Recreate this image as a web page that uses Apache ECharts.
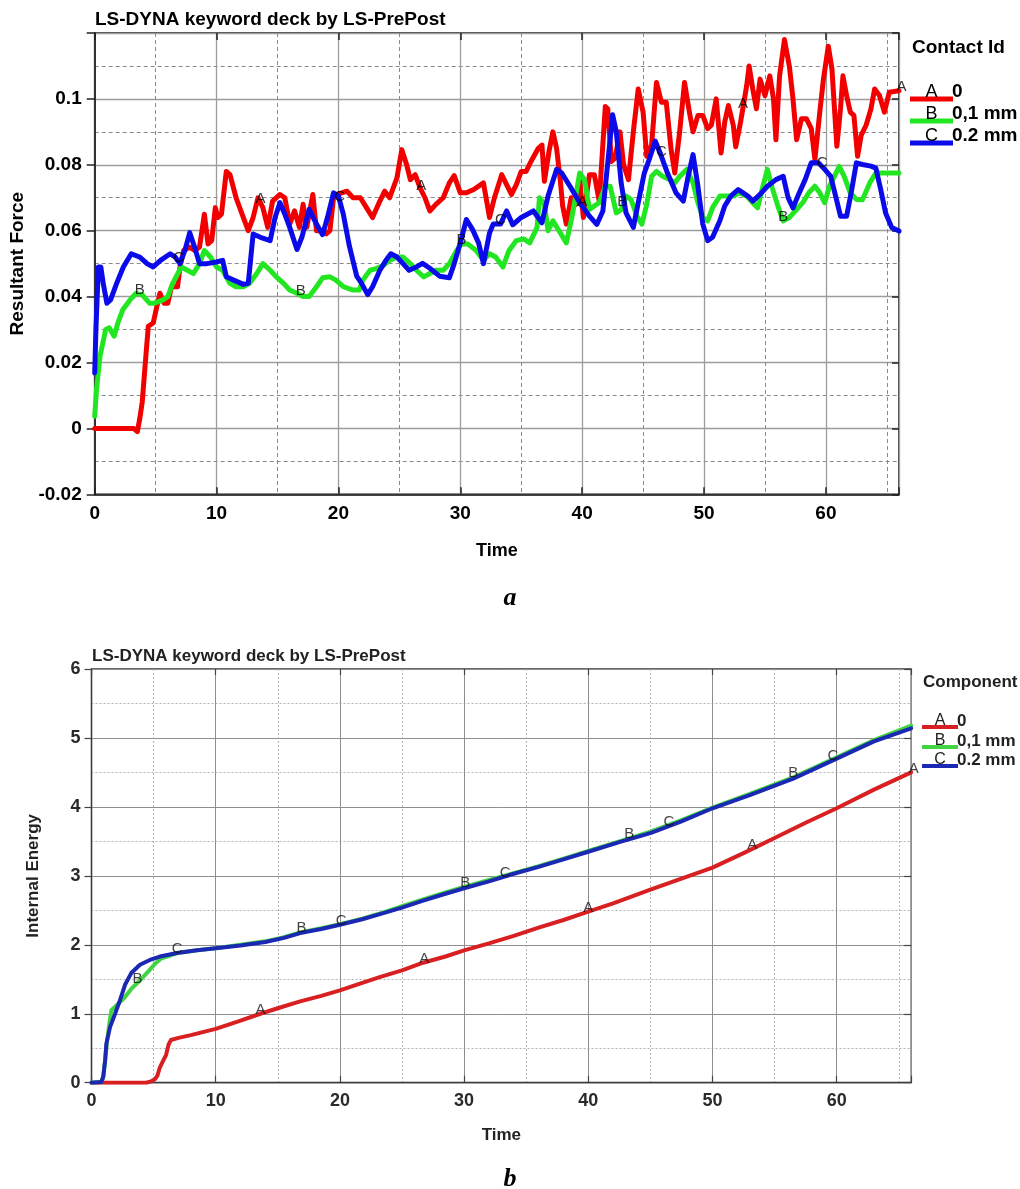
<!DOCTYPE html>
<html>
<head>
<meta charset="utf-8">
<script src="https://cdn.jsdelivr.net/npm/echarts@6/dist/echarts.min.js"></script>
<style>
  html, body { margin: 0; padding: 0; background: #fff; }
  #main { width: 1020px; height: 1189px; }
</style>
</head>
<body>
<div id="main"></div>
<script>
// ---- Resultant force vs time (contact ids A, B, C) ----
const forceA = [
  [0,0],[3.2,0],[3.5,-0.001],[3.7,0.003],[3.9,0.008],[4.2,0.022],[4.4,0.031],[4.8,0.032],[5.1,0.037],
  [5.35,0.041],[5.7,0.038],[6.0,0.038],[6.3,0.043],[6.8,0.043],[7.0,0.049],[7.3,0.054],[7.8,0.055],
  [8.2,0.054],[8.6,0.055],[9.0,0.065],[9.3,0.056],[9.6,0.057],[9.9,0.067],[10.1,0.064],[10.4,0.065],
  [10.8,0.078],[11.1,0.077],[11.6,0.07],[12.2,0.064],[12.6,0.06],[13.0,0.064],[13.4,0.07],[13.8,0.067],
  [14.2,0.061],[14.6,0.069],[15.2,0.071],[15.6,0.07],[16.0,0.062],[16.4,0.066],[16.8,0.061],[17.1,0.068],
  [17.4,0.061],[17.9,0.071],[18.2,0.06],[18.7,0.06],[19.0,0.059],[19.3,0.06],[19.6,0.07],[19.9,0.071],
  [20.7,0.072],[21.2,0.07],[21.8,0.07],[22.3,0.067],[22.8,0.064],[23.4,0.069],[23.8,0.072],[24.2,0.07],
  [24.8,0.076],[25.2,0.0846],[25.6,0.08],[25.9,0.0755],[26.3,0.077],[26.7,0.073],[27.1,0.07],[27.5,0.066],
  [28.0,0.068],[28.6,0.07],[29.1,0.0745],[29.5,0.0767],[30.0,0.0715],[30.5,0.0715],[31.1,0.0725],
  [31.9,0.0745],[32.4,0.064],[32.8,0.07],[33.4,0.077],[33.8,0.074],[34.2,0.071],[34.6,0.074],[35.0,0.078],
  [35.4,0.078],[35.8,0.081],[36.4,0.085],[36.7,0.086],[36.9,0.075],[37.3,0.0845],[37.6,0.09],[37.9,0.085],
  [38.2,0.0755],[38.4,0.0675],[38.7,0.062],[39.1,0.07],[39.5,0.068],[39.8,0.075],[40.1,0.064],[40.6,0.077],
  [41.0,0.077],[41.4,0.069],[41.9,0.0977],[42.1,0.097],[42.4,0.081],[42.7,0.082],[43.1,0.09],[43.4,0.08],
  [43.8,0.0755],[44.2,0.09],[44.6,0.103],[45.0,0.096],[45.3,0.0826],[45.7,0.086],[46.1,0.105],[46.5,0.099],
  [46.9,0.099],[47.3,0.0846],[47.6,0.0775],[48.0,0.09],[48.4,0.105],[48.8,0.096],[49.1,0.09],[49.5,0.095],
  [49.9,0.095],[50.3,0.091],[50.6,0.092],[51.0,0.1],[51.4,0.0836],[51.7,0.093],[52.0,0.098],[52.4,0.092],
  [52.6,0.0855],[53.0,0.093],[53.5,0.104],[53.7,0.11],[54.0,0.103],[54.3,0.097],[54.6,0.106],[55.0,0.101],
  [55.4,0.107],[55.7,0.1],[55.9,0.0876],[56.2,0.107],[56.6,0.118],[57.0,0.11],[57.3,0.1],[57.6,0.0876],
  [58.0,0.094],[58.4,0.094],[58.8,0.091],[59.1,0.0816],[59.5,0.096],[59.8,0.106],[60.2,0.116],[60.5,0.109],
  [60.9,0.0856],[61.2,0.097],[61.4,0.107],[61.7,0.101],[62.0,0.096],[62.3,0.095],[62.6,0.0826],[62.9,0.089],
  [63.3,0.092],[63.7,0.097],[64.0,0.103],[64.4,0.101],[64.8,0.096],[65.2,0.102],[66,0.1025]
];
const forceB = [
  [0,0.0037],[0.15,0.012],[0.44,0.022],[0.9,0.03],[1.2,0.0305],[1.6,0.028],[1.9,0.032],[2.3,0.036],
  [2.9,0.039],[3.4,0.041],[3.9,0.0405],[4.5,0.038],[4.9,0.038],[5.6,0.039],[6.0,0.04],[6.4,0.044],
  [7.1,0.049],[7.6,0.048],[8.1,0.047],[8.6,0.05],[9.0,0.054],[9.5,0.052],[10.0,0.049],[10.5,0.048],
  [11.1,0.044],[11.6,0.043],[12.2,0.043],[12.7,0.044],[13.3,0.047],[13.8,0.05],[14.4,0.048],[14.9,0.046],
  [15.5,0.044],[16.0,0.042],[16.6,0.041],[17.1,0.04],[17.6,0.04],[18.2,0.043],[18.7,0.0457],[19.3,0.046],
  [19.8,0.045],[20.4,0.043],[21.2,0.042],[21.7,0.042],[22.0,0.045],[22.6,0.048],[23.1,0.0485],[23.7,0.0495],
  [24.2,0.051],[24.8,0.052],[25.3,0.052],[25.9,0.05],[26.4,0.048],[27.0,0.046],[27.5,0.047],[28.0,0.048],
  [28.6,0.048],[29.1,0.05],[29.7,0.054],[30.1,0.056],[30.6,0.056],[31.3,0.054],[31.9,0.051],[32.4,0.053],
  [32.9,0.052],[33.5,0.049],[34.0,0.054],[34.6,0.057],[35.2,0.0575],[35.7,0.0563],[36.3,0.061],[36.5,0.07],
  [36.9,0.068],[37.2,0.06],[37.6,0.063],[38.1,0.06],[38.7,0.0563],[39.1,0.063],[39.4,0.069],[39.8,0.0775],
  [40.2,0.0755],[40.6,0.0664],[41.0,0.0675],[41.4,0.0685],[41.9,0.0735],[42.3,0.0735],[42.8,0.0654],
  [43.2,0.0664],[43.6,0.0705],[44.0,0.0695],[44.5,0.0644],[44.9,0.062],[45.3,0.068],[45.7,0.0765],
  [46.1,0.078],[46.6,0.0765],[47.2,0.0755],[47.6,0.0745],[48.0,0.0765],[48.6,0.0786],[49.1,0.0745],
  [49.5,0.0685],[49.9,0.064],[50.3,0.063],[50.7,0.067],[51.3,0.0705],[51.8,0.0705],[52.4,0.0705],
  [52.9,0.0715],[53.5,0.0705],[54.0,0.0685],[54.4,0.067],[54.8,0.073],[55.2,0.0786],[55.6,0.073],
  [56.1,0.067],[56.5,0.063],[57.0,0.064],[57.6,0.0664],[58.1,0.0685],[58.6,0.0715],[59.1,0.0735],
  [59.5,0.0715],[59.9,0.0685],[60.3,0.0735],[60.7,0.0765],[61.1,0.0795],[61.5,0.0765],[62.0,0.0715],
  [62.5,0.0695],[63.0,0.0694],[63.6,0.0745],[64.1,0.0775],[64.6,0.0775],[65.2,0.0775],[66,0.0775]
];
const forceC = [
  [0,0.0169],[0.1,0.03],[0.3,0.049],[0.5,0.049],[0.7,0.044],[1.0,0.038],[1.3,0.039],[1.8,0.044],
  [2.35,0.049],[3.0,0.053],[3.7,0.052],[4.3,0.05],[4.8,0.049],[5.4,0.051],[6.2,0.053],[6.6,0.052],
  [7.0,0.05],[7.4,0.054],[7.8,0.0594],[8.2,0.055],[8.6,0.05],[9.2,0.05],[10.0,0.0505],[10.5,0.051],
  [10.8,0.046],[11.4,0.045],[12.2,0.0437],[12.6,0.044],[13.0,0.059],[13.6,0.058],[14.4,0.057],[14.8,0.064],
  [15.2,0.0685],[15.6,0.065],[16.0,0.061],[16.6,0.0543],[17.0,0.058],[17.6,0.0665],[18.2,0.062],
  [18.7,0.0588],[19.1,0.064],[19.6,0.0715],[20.0,0.0705],[20.4,0.065],[20.9,0.0553],[21.5,0.0462],
  [21.9,0.044],[22.4,0.0406],[22.8,0.043],[23.4,0.048],[23.9,0.051],[24.3,0.053],[24.8,0.052],[25.3,0.05],
  [25.8,0.048],[26.4,0.049],[26.9,0.0501],[27.5,0.0486],[28.3,0.0462],[29.1,0.0457],[29.5,0.05],
  [30.0,0.0563],[30.5,0.0634],[31.0,0.0604],[31.5,0.0563],[31.9,0.05],[32.4,0.0593],[32.7,0.062],
  [33.3,0.062],[33.8,0.066],[34.3,0.0618],[35.0,0.064],[36.0,0.066],[36.7,0.0624],[37.2,0.0705],
  [37.9,0.0786],[38.3,0.0776],[39.0,0.0735],[39.8,0.0685],[40.6,0.0644],[41.2,0.0619],[41.7,0.066],
  [42.1,0.0806],[42.5,0.0952],[42.8,0.09],[43.2,0.0745],[43.6,0.0654],[44.2,0.061],[44.6,0.0685],
  [45.1,0.0775],[45.5,0.0816],[46.0,0.0872],[46.4,0.0836],[47.0,0.0775],[47.7,0.0715],[48.3,0.069],
  [48.7,0.0765],[49.1,0.0831],[49.5,0.0735],[49.9,0.062],[50.3,0.057],[50.7,0.058],[51.3,0.063],
  [51.7,0.0675],[52.2,0.0705],[52.8,0.0725],[53.2,0.0715],[53.6,0.0705],[54.0,0.069],[54.6,0.071],
  [55.2,0.0735],[55.9,0.0755],[56.5,0.0765],[56.9,0.07],[57.3,0.0669],[57.7,0.0705],[58.3,0.0755],
  [58.8,0.0806],[59.4,0.0806],[59.9,0.0786],[60.4,0.0765],[60.8,0.0705],[61.2,0.0644],[61.7,0.0644],
  [62.1,0.072],[62.5,0.0806],[63.0,0.0801],[63.7,0.0796],[64.1,0.079],[64.5,0.0725],[64.9,0.0654],
  [65.4,0.061],[66,0.0599]
];

// ---- Internal energy vs time (components A, B, C) ----
const energyA = [
  [0,0],[1,0],[4.4,0],[4.8,0.02],[5.1,0.05],[5.3,0.1],[5.5,0.22],[5.8,0.33],[6.0,0.4],[6.2,0.55],
  [6.4,0.62],[7.0,0.65],[8.0,0.69],[10,0.78],[12,0.9],[13.6,1.0],[15,1.08],[16.8,1.18],[18.5,1.26],
  [20,1.34],[21.5,1.43],[23.2,1.53],[25,1.63],[26.7,1.74],[28.5,1.83],[30,1.92],[32,2.02],[34,2.13],
  [36,2.25],[38,2.36],[40,2.48],[42,2.6],[45,2.8],[47.5,2.96],[50,3.12],[52.5,3.33],[55,3.55],
  [57.5,3.77],[60,3.98],[63,4.25],[66,4.5]
];
const energyB = [
  [0,0],[0.8,0.01],[0.95,0.09],[1.1,0.33],[1.25,0.6],[1.45,0.88],[1.6,1.05],[2.0,1.12],[2.6,1.22],
  [3.2,1.36],[3.7,1.45],[4.3,1.56],[5.1,1.72],[5.6,1.8],[6.9,1.88],[8.5,1.92],[10,1.95],[12,2.0],
  [14,2.05],[15.5,2.11],[16.8,2.18],[18.5,2.24],[20,2.3],[21.8,2.38],[23.5,2.47],[25,2.56],[26.7,2.66],
  [28.3,2.75],[30,2.84],[32,2.94],[34,3.04],[36,3.14],[38,3.25],[40,3.36],[42.5,3.5],[45,3.64],
  [47.5,3.81],[50,3.99],[53,4.19],[56.5,4.43],[60,4.72],[63,4.97],[66,5.18]
];
const energyC = [
  [0,0],[0.8,0.01],[0.95,0.09],[1.1,0.33],[1.2,0.57],[1.5,0.81],[1.9,1.0],[2.3,1.2],[2.7,1.42],
  [3.2,1.59],[3.9,1.71],[4.7,1.78],[5.5,1.83],[6.9,1.88],[8.5,1.92],[10,1.95],[12,1.99],[14,2.04],
  [15.5,2.1],[16.8,2.17],[18.5,2.23],[20,2.29],[21.8,2.37],[23.5,2.46],[25,2.54],[26.7,2.64],[28.3,2.73],
  [30,2.82],[32,2.92],[34,3.03],[36,3.13],[38,3.24],[40,3.35],[42.5,3.49],[45,3.62],[47.5,3.79],
  [50,3.98],[53,4.17],[56.5,4.41],[60,4.7],[63,4.95],[66,5.14]
];

// curve ids, legend texts, and the times where each curve carries its id letter
const curveLetters = ['A', 'B', 'C'];
const curveNames = ['0', '0,1 mm', '0.2 mm'];
const letterTimes = [
  [13.6, 26.8, 40.0, 53.2, 66.2],
  [3.7, 16.9, 30.1, 43.3, 56.5],
  [6.9, 20.1, 33.3, 46.5, 59.7]
];
const forceTicks = ['-0.02', '0', '0.02', '0.04', '0.06', '0.08', '0.1'];
const timeTicks = ['0', '10', '20', '30', '40', '50', '60'];

const FONT = '"Liberation Sans", Arial, Helvetica, sans-serif';
const topColors = ['#f20000', '#22e622', '#0b0bea'];
const botColors = ['#d81f22', '#42d442', '#1b28b4'];

function valueAt(pts, t) {
  if (t <= pts[0][0]) return pts[0][1];
  for (let i = 1; i < pts.length; i++) {
    if (t <= pts[i][0]) {
      const [x0, y0] = pts[i - 1], [x1, y1] = pts[i];
      return y0 + (y1 - y0) * (t - x0) / (x1 - x0);
    }
  }
  return pts[pts.length - 1][1];
}

function tickLabel(list) {
  return function (v) {
    const s = String(+(+v).toFixed(4));
    return list.indexOf(s) >= 0 ? s : '';
  };
}

function valueAxis(grid, o) {
  const ax = Object.assign({ type: 'value', gridIndex: grid, animation: false }, o);
  ax.axisLine = Object.assign({ onZero: false }, ax.axisLine || {});
  return ax;
}

const chart = echarts.init(document.getElementById('main'), null, { renderer: 'canvas' });

const series = [];
function addCurves(curves, colors, grid, width, fontSize, letterColor) {
  curves.forEach((pts, i) => {
    series.push({
      type: 'line', name: curveNames[i], xAxisIndex: grid * 2, yAxisIndex: grid * 2,
      data: pts, showSymbol: false, symbol: 'none', smooth: false, animation: false,
      lineStyle: { color: colors[i], width: width, join: 'round', cap: 'round' },
      z: 3 + i, silent: true
    });
  });
  curves.forEach((pts, i) => {
    series.push({
      type: 'scatter', xAxisIndex: grid * 2, yAxisIndex: grid * 2, clip: false,
      symbolSize: 0, silent: true, animation: false, z: 10,
      data: letterTimes[i].map(t => [t, valueAt(pts, t)]),
      label: {
        show: true, position: 'inside', offset: [0, -4], formatter: curveLetters[i],
        color: letterColor, fontSize: fontSize, fontFamily: FONT
      }
    });
  });
}
addCurves([forceA, forceB, forceC], topColors, 0, 5, 15, '#000');
addCurves([energyA, energyB, energyC], botColors, 1, 4, 15, '#111');

// legend blocks and captions
const graphics = [];
function txt(x, y, text, font, color, align) {
  graphics.push({
    type: 'text', x: x, y: y, silent: true,
    style: { text: text, font: font, fill: color || '#000', align: align || 'left', verticalAlign: 'middle' }
  });
}
function legendBlock(x0, x1, lineY, letterY, colors, width, letterFont, nameFont, color) {
  curveNames.forEach((n, i) => {
    graphics.push({
      type: 'line', silent: true,
      shape: { x1: x0, y1: lineY[i], x2: x1, y2: lineY[i] },
      style: { stroke: colors[i], lineWidth: width }
    });
    txt((x0 + x1) / 2, letterY[i], curveLetters[i], letterFont, color, 'center');
    txt(x1 - 1, letterY[i], n, nameFont, color, 'left');
  });
}
txt(95, 20, 'LS-DYNA keyword deck by LS-PrePost', 'bold 19px ' + FONT, '#000');
txt(912, 48, 'Contact Id', 'bold 19px ' + FONT, '#000');
legendBlock(910, 953, [99, 121, 143], [92, 114, 136], topColors, 5, '18px ' + FONT, 'bold 19px ' + FONT, '#000');
txt(92, 656, 'LS-DYNA keyword deck by LS-PrePost', 'bold 17px ' + FONT, '#222');
txt(923, 682, 'Component', 'bold 17px ' + FONT, '#222');
legendBlock(922, 958, [727, 747, 766], [721, 741, 760], botColors, 4, '16px ' + FONT, 'bold 17px ' + FONT, '#222');
txt(510, 598, 'a', 'italic bold 26px "Liberation Serif", "Times New Roman", serif', '#000', 'center');
txt(510, 1179, 'b', 'italic bold 26px "Liberation Serif", "Times New Roman", serif', '#000', 'center');

const option = {
  animation: false,
  backgroundColor: '#fff',
  grid: [
    { left: 94.7, top: 33, width: 804.3, height: 461.3, show: true, borderColor: '#111', borderWidth: 1.5, backgroundColor: 'transparent' },
    { left: 91.5, top: 669, width: 819.7, height: 413.7, show: true, borderColor: '#3a3a3a', borderWidth: 1.3, backgroundColor: 'transparent' }
  ],
  xAxis: [
    valueAxis(0, {
      min: 0, max: 66, interval: 10,
      name: 'Time', nameLocation: 'middle', nameGap: 48,
      nameTextStyle: { fontFamily: FONT, fontWeight: 'bold', fontSize: 18, color: '#000' },
      axisLine: { show: true, lineStyle: { color: '#111', width: 1.5 } },
      axisTick: { show: true, inside: true, length: 7, lineStyle: { color: '#222', width: 1.5 } },
      axisLabel: { formatter: tickLabel(timeTicks), fontFamily: FONT, fontWeight: 'bold', fontSize: 19, color: '#000', margin: 10 },
      splitLine: { show: true, lineStyle: { color: '#9c9c9c', width: 1.3 } },
      minorTick: { show: false, splitNumber: 2 },
      minorSplitLine: { show: true, lineStyle: { color: '#8a8a8a', width: 1, type: [4, 3] } }
    }),
    valueAxis(0, {
      position: 'top', min: 0, max: 66, interval: 10,
      axisLine: { show: false },
      axisTick: { show: true, inside: true, length: 7, lineStyle: { color: '#222', width: 1.5 } },
      axisLabel: { show: false }, splitLine: { show: false }
    }),
    valueAxis(1, {
      min: 0, max: 66, interval: 10,
      name: 'Time', nameLocation: 'middle', nameGap: 44,
      nameTextStyle: { fontFamily: FONT, fontWeight: 'bold', fontSize: 17, color: '#222' },
      axisLine: { show: true, lineStyle: { color: '#3a3a3a', width: 1.3 } },
      axisTick: { show: true, inside: true, length: 7, lineStyle: { color: '#444', width: 1.2 } },
      axisLabel: { formatter: tickLabel(timeTicks), fontFamily: FONT, fontWeight: 'bold', fontSize: 18, color: '#2a2a2a', margin: 9 },
      splitLine: { show: true, lineStyle: { color: '#8e8e8e', width: 1 } },
      minorTick: { show: false, splitNumber: 2 },
      minorSplitLine: { show: true, lineStyle: { color: '#b2b2b2', width: 1, type: [2, 2] } }
    }),
    valueAxis(1, {
      position: 'top', min: 0, max: 66, interval: 10,
      axisLine: { show: false },
      axisTick: { show: true, inside: true, length: 6, lineStyle: { color: '#444', width: 1.2 } },
      axisLabel: { show: false }, splitLine: { show: false }
    })
  ],
  yAxis: [
    valueAxis(0, {
      min: -0.02, max: 0.12, interval: 0.02,
      name: 'Resultant Force', nameLocation: 'middle', nameGap: 66,
      nameTextStyle: { fontFamily: FONT, fontWeight: 'bold', fontSize: 19, color: '#000' },
      axisLine: { show: true, lineStyle: { color: '#111', width: 1.5 } },
      axisTick: { show: true, inside: false, length: 8, lineStyle: { color: '#222', width: 1.5 } },
      axisLabel: { formatter: tickLabel(forceTicks), fontFamily: FONT, fontWeight: 'bold', fontSize: 19, color: '#000', margin: 13 },
      splitLine: { show: true, lineStyle: { color: '#9c9c9c', width: 1.3 } },
      minorTick: { show: false, splitNumber: 2 },
      minorSplitLine: { show: true, lineStyle: { color: '#8a8a8a', width: 1, type: [4, 3] } }
    }),
    valueAxis(0, {
      position: 'right', min: -0.02, max: 0.12, interval: 0.02,
      axisLine: { show: false },
      axisTick: { show: true, inside: true, length: 7, lineStyle: { color: '#222', width: 1.5 } },
      axisLabel: { show: false }, splitLine: { show: false }
    }),
    valueAxis(1, {
      min: 0, max: 6, interval: 1,
      name: 'Internal Energy', nameLocation: 'middle', nameGap: 50,
      nameTextStyle: { fontFamily: FONT, fontWeight: 'bold', fontSize: 17, color: '#222' },
      axisLine: { show: true, lineStyle: { color: '#3a3a3a', width: 1.3 } },
      axisTick: { show: true, inside: false, length: 7, lineStyle: { color: '#444', width: 1.2 } },
      axisLabel: { fontFamily: FONT, fontWeight: 'bold', fontSize: 18, color: '#2a2a2a', margin: 11 },
      splitLine: { show: true, lineStyle: { color: '#8e8e8e', width: 1 } },
      minorTick: { show: false, splitNumber: 2 },
      minorSplitLine: { show: true, lineStyle: { color: '#b2b2b2', width: 1, type: [2, 2] } }
    }),
    valueAxis(1, {
      position: 'right', min: 0, max: 6, interval: 1,
      axisLine: { show: false },
      axisTick: { show: true, inside: true, length: 7, lineStyle: { color: '#444', width: 1.2 } },
      axisLabel: { show: false }, splitLine: { show: false }
    })
  ],
  series: series,
  graphic: graphics
};

chart.setOption(option);
</script>
</body>
</html>
